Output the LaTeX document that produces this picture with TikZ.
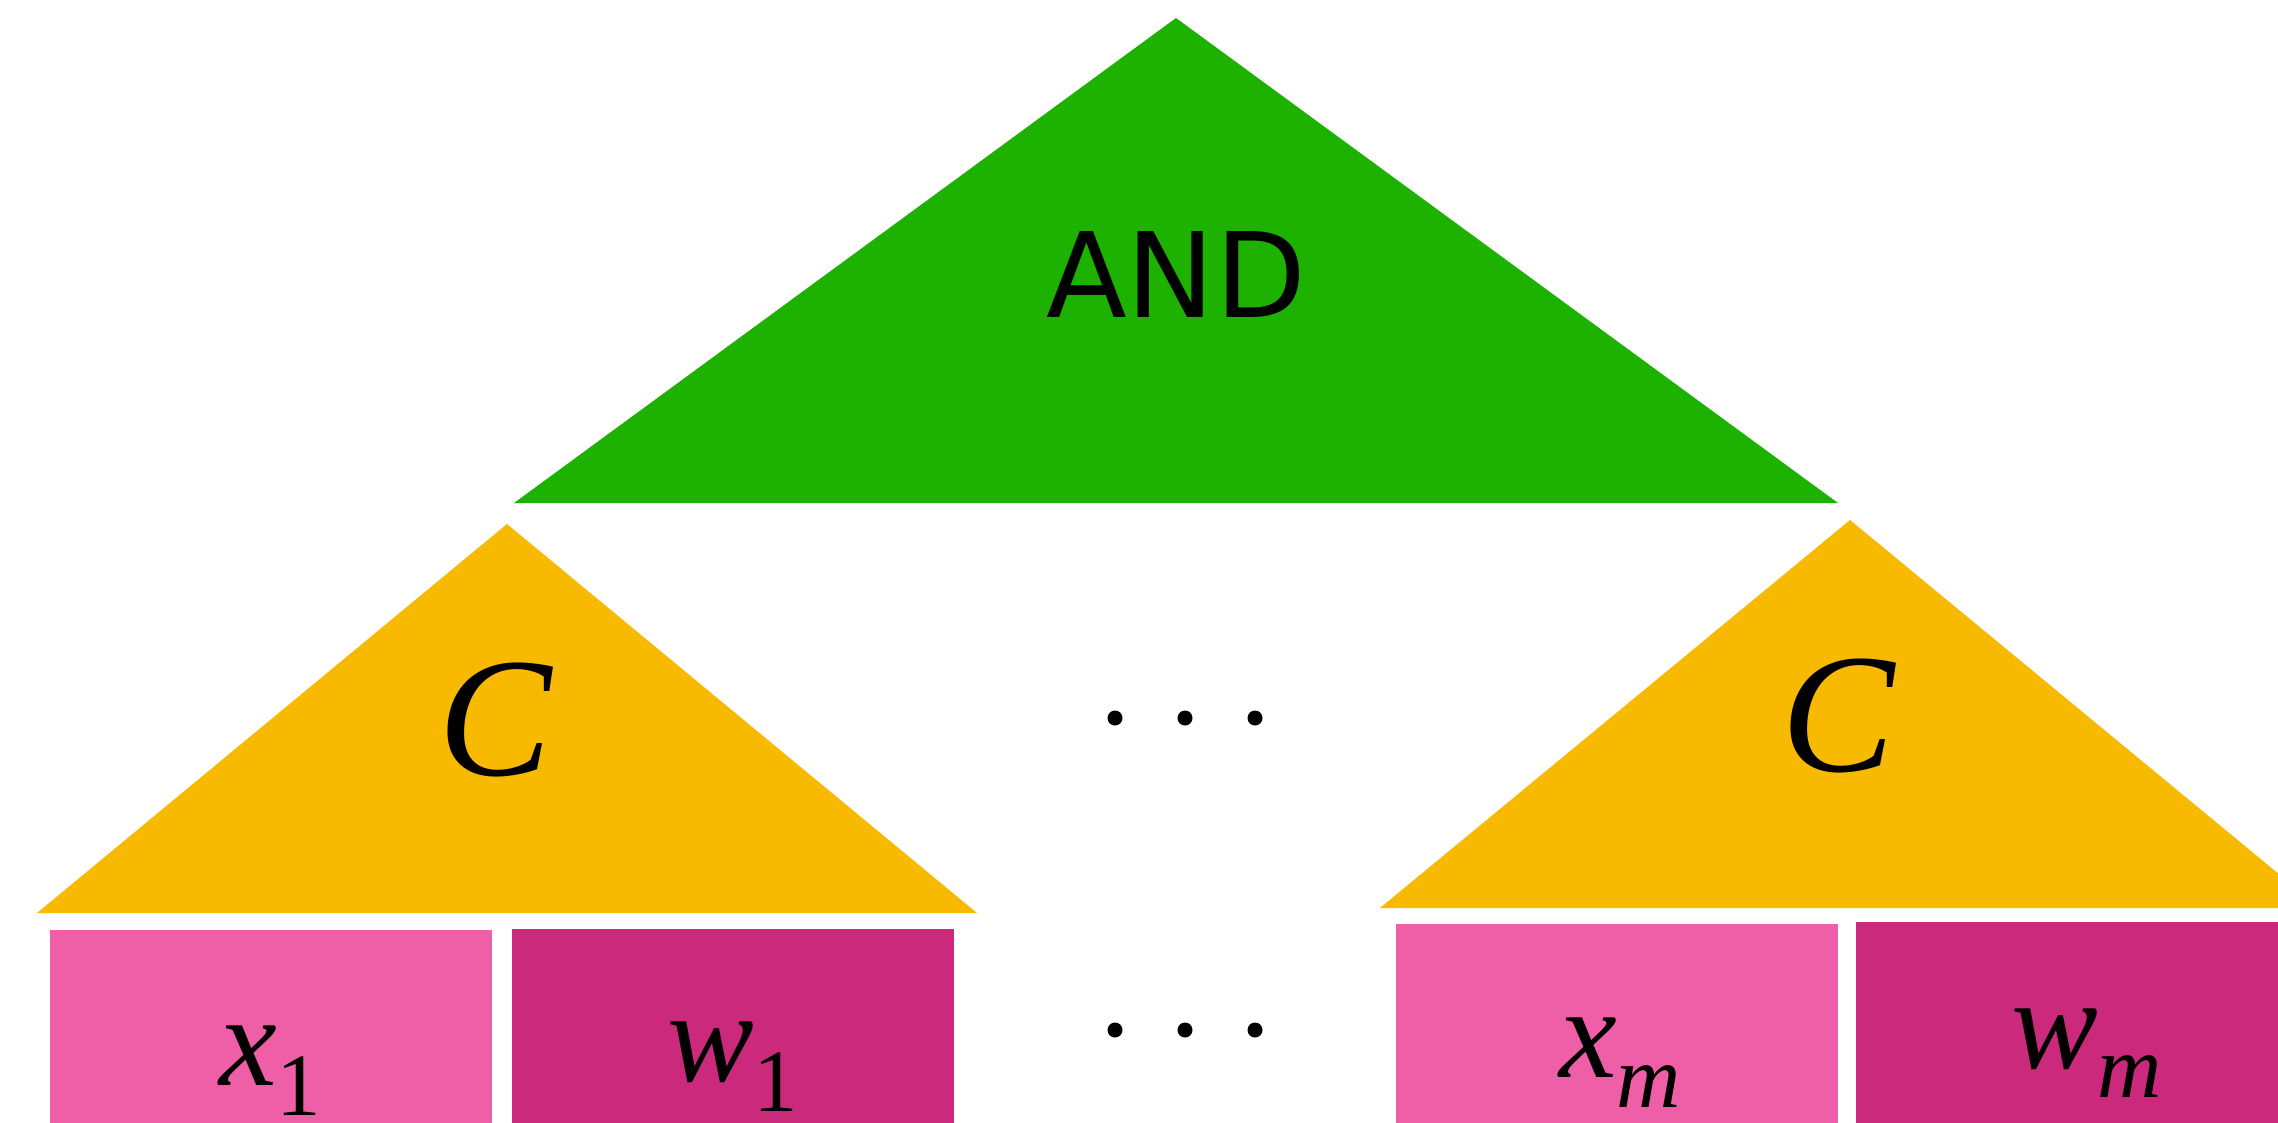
\documentclass[tikz,border=0pt]{standalone}
\usepackage{fontspec}
\setmainfont{Liberation Serif}
\newfontfamily\andfont{DejaVu Sans}
\definecolor{andgreen}{RGB}{30,178,0}
\definecolor{cyellow}{RGB}{248,186,0}
\definecolor{xpink}{RGB}{239,95,167}
\definecolor{wpink}{RGB}{203,41,123}
\begin{document}
\begin{tikzpicture}[x=1pt,y=-1pt,
  lbl/.style={inner sep=0pt,text=black,anchor=base west},
  cfont/.style={font=\fontsize{170}{170}\selectfont\itshape},
  vfont/.style={font=\fontsize{130}{130}\selectfont},
  dotmark/.style={fill=black}]
\useasboundingbox (0,0) rectangle (2278,1122);
\clip (0,0) rectangle (2278,1122);
% triangles
\fill[andgreen] (1176,18) -- (1838,503) -- (514,503) -- cycle;
\fill[cyellow] (507,524) -- (977,913) -- (37,913) -- cycle;
\fill[cyellow] (1850,520) -- (2320,908) -- (1380,908) -- cycle;
% boxes
\fill[xpink] (50,930) rectangle (492,1130);
\fill[wpink] (512,929) rectangle (954,1130);
\fill[xpink] (1396,924) rectangle (1838,1130);
\fill[wpink] (1856,922) rectangle (2290,1130);
% labels
\node[inner sep=0pt,anchor=base] (and) at (1176,317) {\andfont\fontsize{118}{118}\selectfont AND};
\node[inner sep=0pt,cfont] (c1) at (495,720) {C};
\node[inner sep=0pt,cfont] (c2) at (1838,716) {C};
\node[lbl,vfont] (x1) at (219,1085) {\textit{x}\raisebox{-30pt}{\fontsize{89}{89}\selectfont 1}};
\node[lbl,vfont] (w1) at (667,1081) {\textit{w}\raisebox{-30pt}{\fontsize{89}{89}\selectfont 1}};
\node[lbl,vfont] (xm) at (1559,1077) {\textit{x}\raisebox{-30pt}{\fontsize{89}{89}\selectfont\itshape m}};
\node[lbl,vfont] (wm) at (2011,1068) {\textit{w}\raisebox{-29pt}{\fontsize{89}{89}\selectfont\itshape m}};
% dots
\foreach \i/\xx in {1/1115,2/1185,3/1255}{
  \fill[dotmark] (\xx,718) circle[radius=7.5pt];
  \fill[dotmark] (\xx,1030) circle[radius=7.5pt];
}
\end{tikzpicture}
\end{document}
